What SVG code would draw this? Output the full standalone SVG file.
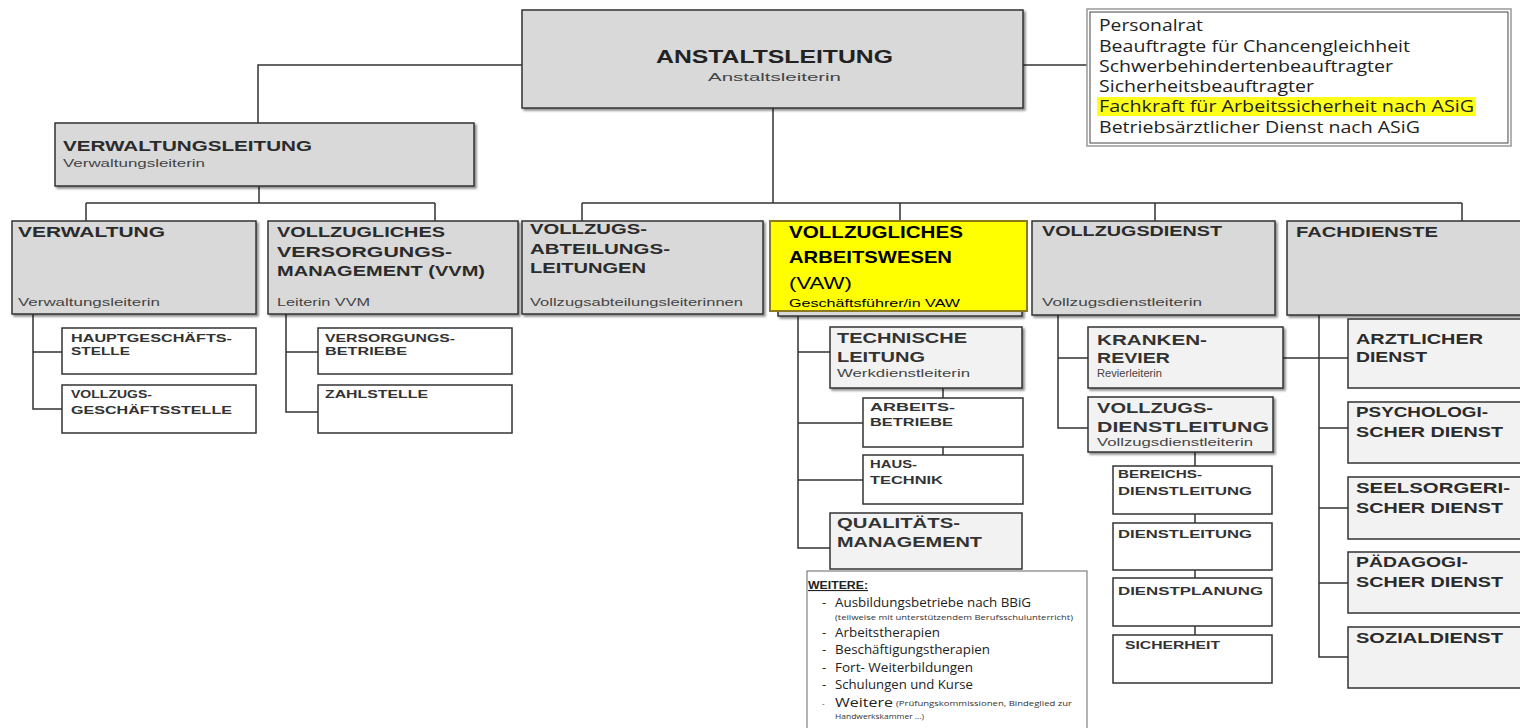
<svg xmlns="http://www.w3.org/2000/svg" width="1520" height="728" viewBox="0 0 1520 728">
<style>
text{font-family:"Liberation Sans",Arial,sans-serif}
.box{fill:#d9d9d9;stroke:#333;stroke-width:1.5}
.lt{fill:#f2f2f2;stroke:#333;stroke-width:1.5}
.wh{fill:#fff;stroke:#333;stroke-width:1.5}
.ti{font-weight:bold;font-size:15px;fill:#2b2b2b}
.st{font-size:10.5px;fill:#444}
.sm{font-weight:bold;font-size:11.5px;fill:#333}
.md{font-weight:bold;font-size:14px;fill:#333}
.gr{font-family:"Open Sans",sans-serif;font-size:16px;fill:#222}
.we{font-family:"Open Sans",sans-serif;font-size:13px;fill:#222}
.ws{font-family:"Open Sans",sans-serif;font-size:8px;fill:#333}
.cn{fill:none;stroke:#333;stroke-width:1.5}
</style>
<defs>
<filter id="sh" x="-5%" y="-5%" width="115%" height="120%"><feDropShadow dx="2" dy="2" stdDeviation="1.2" flood-color="#000" flood-opacity="0.45"/></filter>
</defs>
<rect width="1520" height="728" fill="#fff"/>
<g id="connectors" class="cn">
<path d="M522,65 H258 V123"/>
<path d="M1023,65 H1087"/>
<path d="M259,186 V203 M86,203 H435 M86,203 V221 M435,203 V221"/>
<path d="M773,108 V203 M582,203 H1462 M582,203 V221 M900,203 V221 M1155,203 V221 M1462,203 V221"/>
<path d="M33,314 V409 H62 M33,352 H62"/>
<path d="M286,314 V412 H318 M286,352 H318"/>
<path d="M798,316 V548 H830 M798,352 H830 M798,423 H863 M798,480 H863"/>
<path d="M943,388 V398 M943,447 V455"/>
<path d="M1058,315 V428 H1088 M1058,358 H1088"/>
<path d="M1283,358 H1348"/>
<path d="M1195,452 V466 M1195,514 V523 M1195,570 V578 M1195,626 V635"/>
<path d="M1319,315 V657 H1348 M1319,428 H1348 M1319,508 H1348 M1319,583 H1348"/>
</g>
<g id="anstaltsleitung">
<rect class="box" x="522" y="10" width="501" height="98" filter="url(#sh)"/>
<text x="656" y="63" font-weight="bold" font-size="18" fill="#222" textLength="237" lengthAdjust="spacingAndGlyphs">ANSTALTSLEITUNG</text>
<text class="st" x="708" y="81" textLength="133" lengthAdjust="spacingAndGlyphs">Anstaltsleiterin</text>
</g>
<g id="gremien">
<rect x="1087" y="9" width="424" height="137" fill="#fff" stroke="#999" stroke-width="1.5"/>
<rect x="1090" y="12" width="418" height="131" fill="none" stroke="#444" stroke-width="1"/>
<rect x="1097" y="97" width="379" height="19" fill="#ffff1a"/>
<text class="gr" x="1099" y="31" textLength="104" lengthAdjust="spacingAndGlyphs">Personalrat</text>
<text class="gr" x="1099" y="52" textLength="311" lengthAdjust="spacingAndGlyphs">Beauftragte für Chancengleichheit</text>
<text class="gr" x="1099" y="72" textLength="294" lengthAdjust="spacingAndGlyphs">Schwerbehindertenbeauftragter</text>
<text class="gr" x="1099" y="92" textLength="215" lengthAdjust="spacingAndGlyphs">Sicherheitsbeauftragter</text>
<text class="gr" x="1099" y="112" textLength="375" lengthAdjust="spacingAndGlyphs">Fachkraft für Arbeitssicherheit nach ASiG</text>
<text class="gr" x="1099" y="133" textLength="321" lengthAdjust="spacingAndGlyphs">Betriebsärztlicher Dienst nach ASiG</text>
</g>
<g id="verwaltungsleitung">
<rect class="box" x="55" y="123" width="419" height="63" filter="url(#sh)"/>
<text class="ti" x="63" y="151" textLength="249" lengthAdjust="spacingAndGlyphs">VERWALTUNGSLEITUNG</text>
<text class="st" x="63" y="167" textLength="142" lengthAdjust="spacingAndGlyphs">Verwaltungsleiterin</text>
</g>
<g id="verwaltung">
<rect class="box" x="12" y="221" width="244" height="93" filter="url(#sh)"/>
<text class="ti" x="18" y="237" textLength="147" lengthAdjust="spacingAndGlyphs">VERWALTUNG</text>
<text class="st" x="18" y="306" textLength="142" lengthAdjust="spacingAndGlyphs">Verwaltungsleiterin</text>
</g>
<g id="vvm">
<rect class="box" x="268" y="221" width="250" height="93" filter="url(#sh)"/>
<text class="ti" x="277" y="237" textLength="168" lengthAdjust="spacingAndGlyphs">VOLLZUGLICHES</text>
<text class="ti" x="277" y="257" textLength="175" lengthAdjust="spacingAndGlyphs">VERSORGUNGS-</text>
<text class="ti" x="277" y="276" textLength="208" lengthAdjust="spacingAndGlyphs">MANAGEMENT (VVM)</text>
<text class="st" x="277" y="306" textLength="93" lengthAdjust="spacingAndGlyphs">Leiterin VVM</text>
</g>
<g id="hauptgeschaeftsstelle">
<rect class="wh" x="62" y="328" width="194" height="46"/>
<text class="sm" x="71" y="342" textLength="161" lengthAdjust="spacingAndGlyphs">HAUPTGESCHÄFTS-</text>
<text class="sm" x="71" y="355" textLength="59" lengthAdjust="spacingAndGlyphs">STELLE</text>
</g>
<g id="vollzugsgeschaeftsstelle">
<rect class="wh" x="62" y="385" width="194" height="48"/>
<text class="sm" x="71" y="398" textLength="81" lengthAdjust="spacingAndGlyphs">VOLLZUGS-</text>
<text class="sm" x="71" y="414" textLength="161" lengthAdjust="spacingAndGlyphs">GESCHÄFTSSTELLE</text>
</g>
<g id="versorgungsbetriebe">
<rect class="wh" x="318" y="328" width="194" height="46"/>
<text class="sm" x="325" y="342" textLength="130" lengthAdjust="spacingAndGlyphs">VERSORGUNGS-</text>
<text class="sm" x="325" y="355" textLength="82" lengthAdjust="spacingAndGlyphs">BETRIEBE</text>
</g>
<g id="zahlstelle">
<rect class="wh" x="318" y="385" width="194" height="48"/>
<text class="sm" x="325" y="398" textLength="103" lengthAdjust="spacingAndGlyphs">ZAHLSTELLE</text>
</g>
<g id="vollzugsabteilungsleitungen">
<rect class="box" x="522" y="221" width="241" height="93" filter="url(#sh)"/>
<text class="ti" x="530" y="234" textLength="117" lengthAdjust="spacingAndGlyphs">VOLLZUGS-</text>
<text class="ti" x="530" y="254" textLength="140" lengthAdjust="spacingAndGlyphs">ABTEILUNGS-</text>
<text class="ti" x="530" y="273" textLength="116" lengthAdjust="spacingAndGlyphs">LEITUNGEN</text>
<text class="st" x="530" y="306" textLength="213" lengthAdjust="spacingAndGlyphs">Vollzugsabteilungsleiterinnen</text>
</g>
<g id="vaw">
<rect class="box" x="778" y="226" width="244" height="90" filter="url(#sh)"/>
<rect x="770" y="221" width="257" height="90" fill="#ffff00" stroke="#8c7a1e" stroke-width="2"/>
<text x="789" y="238" font-weight="bold" font-size="17" fill="#000" textLength="174" lengthAdjust="spacingAndGlyphs">VOLLZUGLICHES</text>
<text x="789" y="263" font-weight="bold" font-size="17" fill="#000" textLength="163" lengthAdjust="spacingAndGlyphs">ARBEITSWESEN</text>
<text x="789" y="289" font-size="17" fill="#000" textLength="63" lengthAdjust="spacingAndGlyphs">(VAW)</text>
<text x="789" y="307" font-size="11" fill="#000" textLength="171" lengthAdjust="spacingAndGlyphs">Geschäftsführer/in VAW</text>
</g>
<g id="technische-leitung">
<rect class="lt" x="830" y="327" width="192" height="61" filter="url(#sh)"/>
<text class="md" x="837" y="343" textLength="130" lengthAdjust="spacingAndGlyphs">TECHNISCHE</text>
<text class="md" x="837" y="362" textLength="88" lengthAdjust="spacingAndGlyphs">LEITUNG</text>
<text class="st" x="837" y="377" textLength="133" lengthAdjust="spacingAndGlyphs">Werkdienstleiterin</text>
</g>
<g id="arbeitsbetriebe">
<rect class="wh" x="863" y="398" width="160" height="49"/>
<text class="sm" x="870" y="411" textLength="85" lengthAdjust="spacingAndGlyphs">ARBEITS-</text>
<text class="sm" x="870" y="426" textLength="83" lengthAdjust="spacingAndGlyphs">BETRIEBE</text>
</g>
<g id="haustechnik">
<rect class="wh" x="863" y="455" width="160" height="49"/>
<text class="sm" x="870" y="468" textLength="47" lengthAdjust="spacingAndGlyphs">HAUS-</text>
<text class="sm" x="870" y="484" textLength="73" lengthAdjust="spacingAndGlyphs">TECHNIK</text>
</g>
<g id="qualitaetsmanagement">
<rect class="lt" x="830" y="513" width="192" height="56"/>
<text class="md" x="837" y="528" textLength="123" lengthAdjust="spacingAndGlyphs">QUALITÄTS-</text>
<text class="md" x="837" y="547" textLength="145" lengthAdjust="spacingAndGlyphs">MANAGEMENT</text>
</g>
<g id="weitere">
<rect x="807" y="571" width="280" height="162" fill="#fff" stroke="#666" stroke-width="1"/>
<text x="808" y="589" font-family="Open Sans, sans-serif" font-weight="bold" font-size="11" fill="#222" text-decoration="underline" textLength="60" lengthAdjust="spacingAndGlyphs">WEITERE:</text>
<text class="we" x="822" y="607">-</text>
<text class="we" x="835" y="607" textLength="196" lengthAdjust="spacingAndGlyphs">Ausbildungsbetriebe nach BBiG</text>
<text class="ws" x="835" y="620" textLength="238" lengthAdjust="spacingAndGlyphs">(teilweise mit unterstützendem Berufsschulunterricht)</text>
<text class="we" x="822" y="637">-</text>
<text class="we" x="835" y="637" textLength="105" lengthAdjust="spacingAndGlyphs">Arbeitstherapien</text>
<text class="we" x="822" y="654">-</text>
<text class="we" x="835" y="654" textLength="155" lengthAdjust="spacingAndGlyphs">Beschäftigungstherapien</text>
<text class="we" x="822" y="672">-</text>
<text class="we" x="835" y="672" textLength="138" lengthAdjust="spacingAndGlyphs">Fort- Weiterbildungen</text>
<text class="we" x="822" y="689">-</text>
<text class="we" x="835" y="689" textLength="138" lengthAdjust="spacingAndGlyphs">Schulungen und Kurse</text>
<text class="ws" x="822" y="706">-</text>
<text class="we" x="835" y="707" textLength="58" lengthAdjust="spacingAndGlyphs">Weitere</text>
<text class="ws" x="896" y="706" textLength="176" lengthAdjust="spacingAndGlyphs">(Prüfungskommissionen, Bindeglied zur</text>
<text class="ws" x="835" y="719" textLength="89" lengthAdjust="spacingAndGlyphs">Handwerkskammer ...)</text>
</g>
<g id="vollzugsdienst">
<rect class="box" x="1032" y="221" width="243" height="94" filter="url(#sh)"/>
<text class="ti" x="1042" y="236" textLength="180" lengthAdjust="spacingAndGlyphs">VOLLZUGSDIENST</text>
<text class="st" x="1042" y="306" textLength="160" lengthAdjust="spacingAndGlyphs">Vollzugsdienstleiterin</text>
</g>
<g id="krankenrevier">
<rect class="lt" x="1088" y="327" width="195" height="61" filter="url(#sh)"/>
<text class="md" x="1097" y="345" textLength="110" lengthAdjust="spacingAndGlyphs">KRANKEN-</text>
<text class="md" x="1097" y="363" textLength="73" lengthAdjust="spacingAndGlyphs">REVIER</text>
<text class="st" x="1097" y="377" textLength="65" lengthAdjust="spacingAndGlyphs">Revierleiterin</text>
</g>
<g id="vollzugsdienstleitung">
<rect class="lt" x="1088" y="397" width="185" height="55" filter="url(#sh)"/>
<text class="md" x="1097" y="413" textLength="116" lengthAdjust="spacingAndGlyphs">VOLLZUGS-</text>
<text class="md" x="1097" y="432" textLength="172" lengthAdjust="spacingAndGlyphs">DIENSTLEITUNG</text>
<text class="st" x="1097" y="446" textLength="156" lengthAdjust="spacingAndGlyphs">Vollzugsdienstleiterin</text>
</g>
<g id="bereichsdienstleitung">
<rect class="wh" x="1113" y="466" width="159" height="48"/>
<text class="sm" x="1118" y="478" textLength="84" lengthAdjust="spacingAndGlyphs">BEREICHS-</text>
<text class="sm" x="1118" y="495" textLength="134" lengthAdjust="spacingAndGlyphs">DIENSTLEITUNG</text>
</g>
<g id="dienstleitung">
<rect class="wh" x="1113" y="523" width="159" height="47"/>
<text class="sm" x="1118" y="538" textLength="134" lengthAdjust="spacingAndGlyphs">DIENSTLEITUNG</text>
</g>
<g id="dienstplanung">
<rect class="wh" x="1113" y="578" width="159" height="48"/>
<text class="sm" x="1118" y="595" textLength="145" lengthAdjust="spacingAndGlyphs">DIENSTPLANUNG</text>
</g>
<g id="sicherheit">
<rect class="wh" x="1113" y="635" width="159" height="48"/>
<text class="sm" x="1125" y="649" textLength="95" lengthAdjust="spacingAndGlyphs">SICHERHEIT</text>
</g>
<g id="fachdienste">
<rect class="box" x="1287" y="221" width="245" height="94" filter="url(#sh)"/>
<text class="ti" x="1296" y="237" textLength="142" lengthAdjust="spacingAndGlyphs">FACHDIENSTE</text>
</g>
<g id="aerztlicher-dienst">
<rect class="lt" x="1348" y="319" width="185" height="69"/>
<text class="ti" x="1356" y="344" textLength="127" lengthAdjust="spacingAndGlyphs">ARZTLICHER</text>
<text class="ti" x="1356" y="362" textLength="71" lengthAdjust="spacingAndGlyphs">DIENST</text>
</g>
<g id="psychologischer-dienst">
<rect class="lt" x="1348" y="402" width="185" height="61"/>
<text class="ti" x="1356" y="417" textLength="132" lengthAdjust="spacingAndGlyphs">PSYCHOLOGI-</text>
<text class="ti" x="1356" y="437" textLength="147" lengthAdjust="spacingAndGlyphs">SCHER DIENST</text>
</g>
<g id="seelsorgerischer-dienst">
<rect class="lt" x="1348" y="477" width="185" height="62"/>
<text class="ti" x="1356" y="493" textLength="154" lengthAdjust="spacingAndGlyphs">SEELSORGERI-</text>
<text class="ti" x="1356" y="513" textLength="147" lengthAdjust="spacingAndGlyphs">SCHER DIENST</text>
</g>
<g id="paedagogischer-dienst">
<rect class="lt" x="1348" y="552" width="185" height="61"/>
<text class="ti" x="1356" y="567" textLength="112" lengthAdjust="spacingAndGlyphs">PÄDAGOGI-</text>
<text class="ti" x="1356" y="587" textLength="147" lengthAdjust="spacingAndGlyphs">SCHER DIENST</text>
</g>
<g id="sozialdienst">
<rect class="lt" x="1348" y="627" width="185" height="61"/>
<text class="ti" x="1356" y="643" textLength="147" lengthAdjust="spacingAndGlyphs">SOZIALDIENST</text>
</g>
</svg>
